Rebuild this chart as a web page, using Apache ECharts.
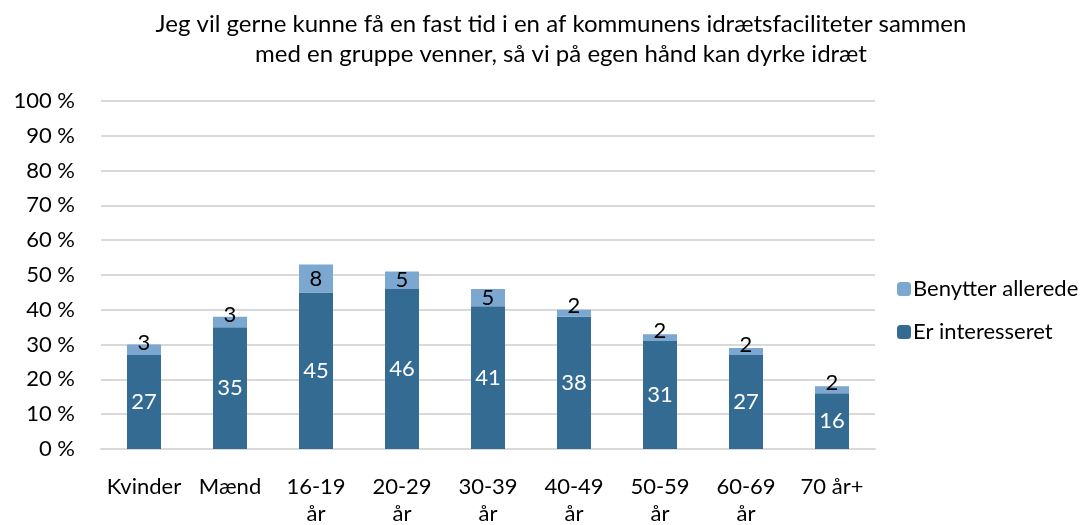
<!DOCTYPE html>
<html>
<head>
<meta charset="utf-8">
<script src="https://cdn.jsdelivr.net/npm/echarts@6/dist/echarts.min.js"></script>
<style>
  html, body { margin: 0; padding: 0; background: #fff; }
  #chart { width: 1086px; height: 525px; }
</style>
</head>
<body>
<div id="chart"></div>
<script>
/* data */
var categories = ["Kvinder", "Mænd", "16-19\når", "20-29\når", "30-39\når", "40-49\når", "50-59\når", "60-69\når", "70 år+"];
var interesseret = [27, 35, 45, 46, 41, 38, 31, 27, 16];
var benytter = [3, 3, 8, 5, 5, 2, 2, 2, 2];
var yTicks = [0, 10, 20, 30, 40, 50, 60, 70, 80, 90, 100];

var FONT = "Lato";

// small light segments: Excel pushes the label up a bit
var benytterData = benytter.map(function(v) {
  return { value: v, label: { offset: [0, v <= 3 ? -7 : 0] } };
});

var chart = echarts.init(document.getElementById("chart"));
chart.setOption({
  animation: false,
  textStyle: { fontFamily: FONT },
  title: {
    text: "Jeg vil gerne kunne få en fast tid i en af kommunens idrætsfaciliteter sammen\nmed en gruppe venner, så vi på egen hånd kan dyrke idræt",
    left: 556, top: 4, textAlign: "center",
    textStyle: { fontFamily: FONT, fontSize: 24, fontWeight: "normal", color: "#000", lineHeight: 30 }
  },
  legend: {
    orient: "vertical",
    left: 892, top: 273,
    itemWidth: 14, itemHeight: 14, itemGap: 21,
    data: ["Benytter allerede", "Er interesseret"],
    textStyle: { fontFamily: FONT, fontSize: 22, color: "#000", padding: [0, 0, 0, -3] }
  },
  grid: { left: 101, right: 211, top: 101, bottom: 76, outerBoundsMode: "none", containLabel: false },
  xAxis: {
    type: "category",
    data: categories,
    axisLine: { lineStyle: { color: "#d9d9d9", width: 2 } },
    axisTick: { show: false },
    axisLabel: { color: "#000", fontFamily: FONT, fontSize: 22, lineHeight: 27, margin: 24, interval: 0 }
  },
  yAxis: {
    type: "value",
    min: yTicks[0], max: yTicks[yTicks.length - 1], interval: 10,
    axisLine: { show: false },
    axisTick: { show: false },
    splitLine: { lineStyle: { color: "#d9d9d9", width: 2 } },
    axisLabel: { color: "#000", fontFamily: FONT, fontSize: 22, margin: 26, formatter: "{value} %" }
  },
  series: [
    {
      name: "Er interesseret",
      type: "bar",
      stack: "a",
      barWidth: 34,
      data: interesseret,
      itemStyle: { color: "#346b92" },
      label: { show: true, position: "inside", color: "#fff", fontFamily: FONT, fontSize: 22 }
    },
    {
      name: "Benytter allerede",
      type: "bar",
      stack: "a",
      barWidth: 34,
      data: benytterData,
      itemStyle: { color: "#7ba7d0" },
      label: { show: true, position: "inside", color: "#000", fontFamily: FONT, fontSize: 22 }
    }
  ]
});
</script>
</body>
</html>
